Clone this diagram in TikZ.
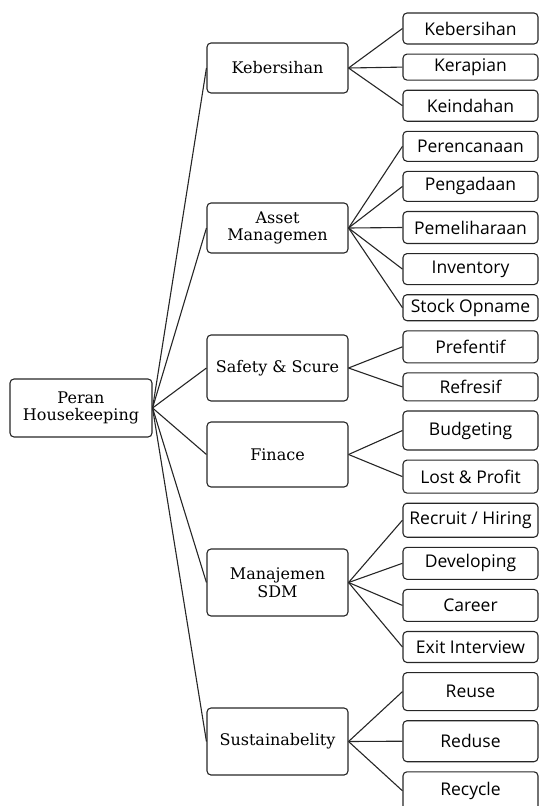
\documentclass[tikz,border=0pt]{standalone}
\usepackage{fontspec}
\newfontfamily\leaffont{Open Sans}
\newfontfamily\topicfont{DejaVu Serif}
\usepackage{tikz}
\usetikzlibrary{positioning}

\begin{document}
\begin{tikzpicture}[
  x=1pt, y=-1pt,
  root/.style={draw=black!85, rounded corners=4pt, line width=1.1pt, minimum width=142pt, minimum height=58pt, inner sep=0pt, font=\topicfont\fontsize{16}{17.5}\selectfont, align=center},
  topic/.style={draw=black!85, rounded corners=4pt, line width=1.1pt, minimum width=141pt, inner sep=0pt, font=\topicfont\fontsize{16}{17.5}\selectfont, align=center},
  leaf/.style={draw=black!85, rounded corners=4pt, line width=1.1pt, minimum width=135pt, inner sep=0pt, font=\leaffont\fontsize{17.5}{19}\selectfont, align=center},
  link/.style={line width=1.1pt, black!85}
]
\useasboundingbox (0,0) rectangle (539,806);

% root and topics
\node[root] (peran) at (81,408) {Peran\\Housekeeping};
\node[topic, minimum height=50pt] (bersih) at (277.5,68) {Kebersihan};
\node[topic, minimum height=50pt] (asset) at (277.5,228) {Asset\\Managemen};
\node[topic, minimum height=66pt] (safety) at (277.5,368) {Safety \& Scure};
\node[topic, minimum height=65pt] (finace) at (277.5,454.5) {Finace};
\node[topic, minimum height=67pt] (sdm) at (277.5,582.5) {Manajemen\\SDM};
\node[topic, minimum height=67pt] (sustain) at (277.5,741.5) {Sustainabelity};

% leaves
\node[leaf, minimum height=31pt] (kebersihan) at (470.5,28.5) {Kebersihan};
\node[leaf, minimum height=26pt, below=9pt of kebersihan] (kerapian) {Kerapian};
\node[leaf, minimum height=31pt, below=9pt of kerapian] (keindahan) {Keindahan};
\node[leaf, minimum height=30pt, below=9pt of keindahan] (rencana) {Perencanaan};
\node[leaf, minimum height=30pt, below=9pt of rencana] (pengadaan) {Pengadaan};
\node[leaf, minimum height=32pt, below=9pt of pengadaan] (pelihara) {Pemeliharaan};
\node[leaf, minimum height=31pt, below=9pt of pelihara] (inventory) {Inventory};
\node[leaf, minimum height=26pt, below=9pt of inventory] (opname) {Stock Opname};
\node[leaf, minimum height=32pt, below=9pt of opname] (prefentif) {Prefentif};
\node[leaf, minimum height=28pt, below=9pt of prefentif] (refresif) {Refresif};
\node[leaf, minimum height=39pt, below=9pt of refresif] (budget) {Budgeting};
\node[leaf, minimum height=33pt, below=9pt of budget] (profit) {Lost \& Profit};
\node[leaf, minimum height=34pt, below=9pt of profit] (recruit) {Recruit / Hiring};
\node[leaf, minimum height=32pt, below=9pt of recruit] (develop) {Developing};
\node[leaf, minimum height=32pt, below=9pt of develop] (career) {Career};
\node[leaf, minimum height=31pt, below=9pt of career] (exit) {Exit Interview};
\node[leaf, minimum height=38pt, below=9pt of exit] (reuse) {Reuse};
\node[leaf, minimum height=41pt, below=9pt of reuse] (reduse) {Reduse};
\node[leaf, minimum height=38pt, below=9pt of reduse] (recycle) {Recycle};

% root to topics
\draw[link] (peran.east) -- (bersih.west);
\draw[link] (peran.east) -- (asset.west);
\draw[link] (peran.east) -- (safety.west);
\draw[link] (peran.east) -- (finace.west);
\draw[link] (peran.east) -- (sdm.west);
\draw[link] (peran.east) -- (sustain.west);

% topics to leaves
\draw[link] (bersih.east) -- (kebersihan.west);
\draw[link] (bersih.east) -- (kerapian.west);
\draw[link] (bersih.east) -- (keindahan.west);
\draw[link] (asset.east) -- (rencana.west);
\draw[link] (asset.east) -- (pengadaan.west);
\draw[link] (asset.east) -- (pelihara.west);
\draw[link] (asset.east) -- (inventory.west);
\draw[link] (asset.east) -- (opname.west);
\draw[link] (safety.east) -- (prefentif.west);
\draw[link] (safety.east) -- (refresif.west);
\draw[link] (finace.east) -- (budget.west);
\draw[link] (finace.east) -- (profit.west);
\draw[link] (sdm.east) -- (recruit.west);
\draw[link] (sdm.east) -- (develop.west);
\draw[link] (sdm.east) -- (career.west);
\draw[link] (sdm.east) -- (exit.west);
\draw[link] (sustain.east) -- (reuse.west);
\draw[link] (sustain.east) -- (reduse.west);
\draw[link] (sustain.east) -- (recycle.west);

\end{tikzpicture}
\end{document}
